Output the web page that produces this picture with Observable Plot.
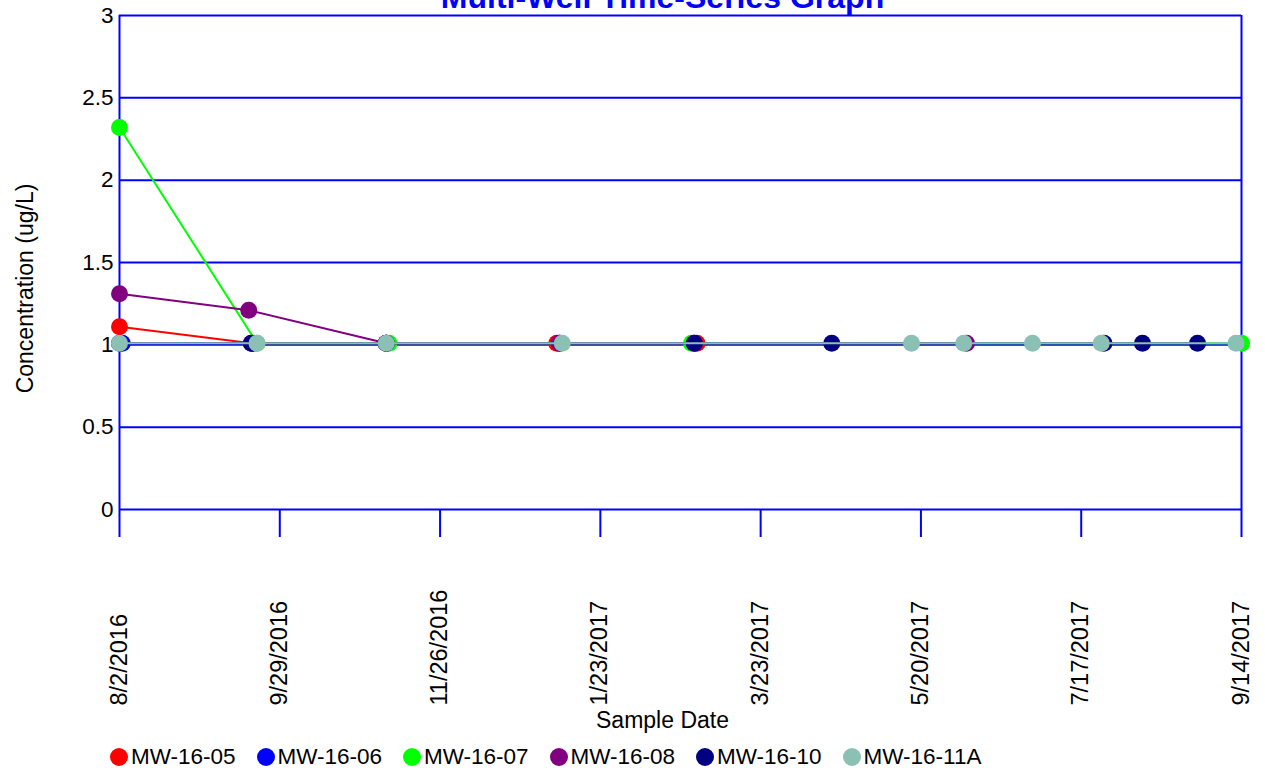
<!DOCTYPE html>
<html>
<head>
<meta charset="utf-8">
<script src="https://cdn.jsdelivr.net/npm/d3@7"></script>
<script src="https://cdn.jsdelivr.net/npm/@observablehq/plot@0.6"></script>
<style>
  body { margin: 0; background: white; font-family: Arial, "Liberation Sans", sans-serif; }
  #legend { display: flex; height: 34px; align-items: center; padding-left: 110px; }
  .item { display: flex; align-items: center; width: 146.5px; font-size: 22.5px; color: black; white-space: nowrap; }
  .sw { width: 18px; height: 18px; border-radius: 50%; margin-right: 3px; flex: none; }
</style>
</head>
<body>
<div id="chart"></div>
<div id="legend"></div>
<script>
// ---- data ----
const chartTitle = "Multi-Well Time-Series Graph";
const xTitle = "Sample Date";
const yTitle = "Concentration (ug/L)";
const wells = ["MW-16-05", "MW-16-06", "MW-16-07", "MW-16-08", "MW-16-10", "MW-16-11A"];
const wellColors = ["#ff0000", "#0000ff", "#00ff00", "#800080", "#000080", "#8bc0b5"];

const mw1605Dates = ["2016-08-02", "2016-09-19", "2016-11-07", "2017-01-08", "2017-02-28"];
const mw1605Values = [1.11, 1.01, 1.01, 1.01, 1.01];
const mw1606Dates = ["2016-08-03", "2016-09-19", "2016-11-07", "2017-01-09", "2017-02-27"];
const mw1606Values = [1.01, 1.01, 1.01, 1.01, 1.01];
const mw1607Dates = ["2016-08-02", "2016-09-21", "2016-11-08", "2017-02-26", "2017-09-14"];
const mw1607Values = [2.32, 1.01, 1.01, 1.01, 1.01];
const mw1608Dates = ["2016-08-02", "2016-09-18", "2016-11-07", "2017-01-09", "2017-06-06"];
const mw1608Values = [1.31, 1.21, 1.01, 1.01, 1.01];
const mw1610Dates = ["2016-08-02", "2016-09-19", "2016-11-07", "2017-02-27", "2017-04-18", "2017-07-26", "2017-08-09", "2017-08-29"];
const mw1610Values = [1.01, 1.01, 1.01, 1.01, 1.01, 1.01, 1.01, 1.01];
const mw1611aDates = ["2016-08-02", "2016-09-21", "2016-11-07", "2017-01-10", "2017-05-17", "2017-06-05", "2017-06-30", "2017-07-25", "2017-09-12"];
const mw1611aValues = [1.01, 1.01, 1.01, 1.01, 1.01, 1.01, 1.01, 1.01, 1.01];

const xDomainDates = ["2016-08-02", "2017-09-14"];
const xTickLabels = ["8/2/2016", "9/29/2016", "11/26/2016", "1/23/2017", "3/23/2017", "5/20/2017", "7/17/2017", "9/14/2017"];
const yTicks = [0, 0.5, 1, 1.5, 2, 2.5, 3];
const yTickLabels = ["0", "0.5", "1", "1.5", "2", "2.5", "3"];

// ---- build ----
const allDates = [mw1605Dates, mw1606Dates, mw1607Dates, mw1608Dates, mw1610Dates, mw1611aDates];
const allValues = [mw1605Values, mw1606Values, mw1607Values, mw1608Values, mw1610Values, mw1611aValues];
const series = wells.map((w, i) => allDates[i].map((d, j) => ({well: w, date: new Date(d + "T00:00:00Z"), value: allValues[i][j]})));

const start = new Date(xDomainDates[0] + "T00:00:00Z");
const end = new Date(xDomainDates[1] + "T00:00:00Z");
const n = xTickLabels.length - 1;
const tickDates = xTickLabels.map((_, i) => new Date(+start + i * (end - start) / n));

const blue = "#0000ff";
const marks = [
  Plot.ruleY(yTicks, {stroke: blue, strokeWidth: 2}),
  Plot.ruleX([start, end], {stroke: blue, strokeWidth: 2}),
  Plot.axisX(tickDates, {tickSize: 28, stroke: blue, strokeWidth: 2, tickFormat: () => "", label: null}),
  Plot.text(yTicks, {y: d => d, text: (d, i) => yTickLabels[i], frameAnchor: "left", textAnchor: "end", dx: -6, fontSize: 22.5, fill: "black"}),
  Plot.text(tickDates, {x: d => d, text: (d, i) => xTickLabels[i], frameAnchor: "bottom", rotate: -90, textAnchor: "start", dx: 7, dy: 196, fontSize: 23.5, fill: "black"}),
  Plot.text([xTitle], {text: d => d, frameAnchor: "bottom", textAnchor: "middle", dx: -18, dy: 218, fontSize: 23, fill: "black"}),
  Plot.text([yTitle], {text: d => d, frameAnchor: "left", textAnchor: "middle", rotate: -90, dx: -94, dy: 26, fontSize: 23, fill: "black"}),
  Plot.text([chartTitle], {text: d => d, frameAnchor: "top", textAnchor: "middle", dx: -18, dy: -8, lineAnchor: "bottom", fontSize: 32, fontWeight: "bold", fill: blue})
];
series.forEach((rows, i) => {
  marks.push(Plot.line(rows, {x: "date", y: "value", stroke: wellColors[i], strokeWidth: 2}));
  marks.push(Plot.dot(rows, {x: "date", y: "value", r: 8.5, fill: wellColors[i], stroke: "none"}));
});

const chart = Plot.plot({
  width: 1265,
  height: 740,
  marginLeft: 119,
  marginRight: 24,
  marginTop: 15,
  marginBottom: 231,
  x: {type: "utc", domain: [start, end]},
  y: {domain: [0, 3], axis: null},
  style: {fontFamily: 'Arial, "Liberation Sans", sans-serif', fontSize: "22px", color: "black", background: "white"},
  marks
});
document.getElementById("chart").appendChild(chart);

const legend = document.getElementById("legend");
wells.forEach((w, i) => {
  const item = document.createElement("div");
  item.className = "item";
  const sw = document.createElement("span");
  sw.className = "sw";
  sw.style.background = wellColors[i];
  const t = document.createElement("span");
  t.textContent = w;
  item.appendChild(sw);
  item.appendChild(t);
  legend.appendChild(item);
});
</script>
</body>
</html>
